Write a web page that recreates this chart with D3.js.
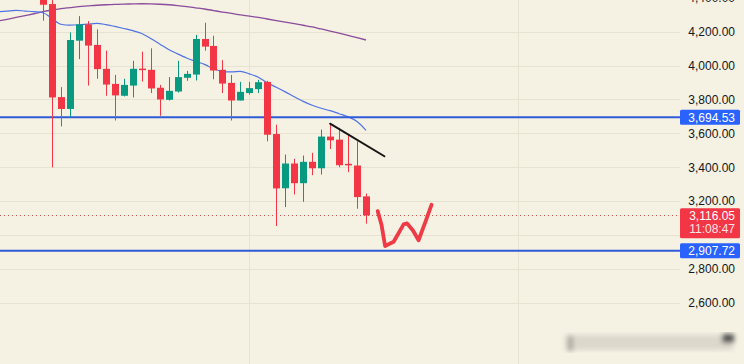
<!DOCTYPE html>
<html>
<head>
<meta charset="utf-8">
<script src="https://cdn.jsdelivr.net/npm/d3@7"></script>
<style>
  body { margin: 0; background: #f5f1e3; }
  svg { display: block; font-family: "Liberation Sans", Arial, sans-serif; }
</style>
</head>
<body>
<div id="chart"></div>
<script>
// candles, one per bar index 0..36
const open  = [4430, 4363, 3814, 3744, 4147, 4243, 4122, 3981, 3892, 3822, 3882, 3982, 3975, 3869, 3798, 3847, 3928, 3947, 4157, 4116, 3975, 3898, 3794, 3838, 3861, 3904, 3596, 3276, 3422, 3306, 3432, 3394, 3581, 3563, 3420, 3410, 3228];
const high  = [4470, 4400, 3873, 4196, 4292, 4263, 4214, 4088, 3945, 3922, 4028, 4082, 4102, 3886, 3932, 4028, 3969, 4181, 4253, 4176, 4032, 3945, 3904, 3904, 3916, 3910, 3651, 3475, 3449, 3469, 3485, 3622, 3657, 3632, 3594, 3553, 3245];
const low   = [4265, 3400, 3641, 3696, 4038, 3882, 3922, 3822, 3676, 3818, 3812, 3906, 3838, 3704, 3794, 3841, 3910, 3912, 4088, 3919, 3838, 3676, 3794, 3829, 3838, 3553, 3053, 3165, 3239, 3196, 3353, 3357, 3508, 3400, 3371, 3155, 3067];
const close = [4359, 3812, 3744, 4151, 4243, 4118, 3979, 3888, 3824, 3886, 3981, 3976, 3865, 3800, 3851, 3932, 3951, 4157, 4112, 3971, 3894, 3794, 3845, 3867, 3902, 3592, 3275, 3422, 3306, 3432, 3394, 3581, 3559, 3412, 3412, 3224, 3116.05];

// moving averages, index -5..36
const maStart = -5;
const maFast = [4317, 4322, 4326, 4322, 4318, 4312, 4278, 4244, 4239, 4241, 4245, 4249, 4242, 4231, 4219, 4206, 4189, 4160, 4128, 4095, 4069, 4045, 4025, 4007, 3981, 3966, 3963, 3966, 3951, 3931, 3898, 3872, 3845, 3816, 3789, 3766, 3748, 3734, 3716, 3698, 3670, 3618];
const maSlow = [4263, 4273, 4284, 4295, 4306, 4318, 4328, 4336, 4342, 4348, 4352, 4356, 4359, 4361, 4363, 4364, 4365, 4364, 4362, 4359, 4354, 4348, 4341, 4334, 4325, 4316, 4308, 4299, 4292, 4284, 4275, 4266, 4257, 4248, 4238, 4228, 4216, 4204, 4191, 4178, 4165, 4151];

// drawings
const levels = [3694.53, 2907.72];
const lastPrice = 3116.05;
const lastTime = "11:08:47";
const trendIdx = [32, 38.05];
const trendPx = [3657, 3465];
const wIdx = [37.31, 37.74, 38.13, 39.08, 40.19, 40.58, 41.25, 41.86, 42.59, 43.31];
const wPx  = [3141, 3057, 2935, 2960, 3063, 3069, 3025, 2969, 3073, 3179];

const gridTicks = [2600, 2800, 3000, 3200, 3400, 3600, 3800, 4000, 4200, 4400];
// 3,000.00 sits under the last-price tag, so it gets no label
const labelTicks = [2600, 2800, 3200, 3400, 3600, 3800, 4000, 4200, 4400];
const vGrid = [22.94, 52.93];

const W = 744, H = 364, plotRight = 680;
const up = "#089981", down = "#f23645", blue = "#2f5bd8";

const svg = d3.select("#chart").append("svg")
    .attr("width", W)
    .attr("height", H);

svg.append("rect").attr("width", W).attr("height", H).attr("fill", "#f5f1e3");

const x = d3.scaleLinear().domain([0, 36]).range([43, 366]);
const y = d3.scaleLinear().domain([2600, 4200]).range([302.8, 31.7]);

// grid
svg.append("g").selectAll("line")
  .data(gridTicks)
  .join("line")
    .attr("x1", 0).attr("x2", plotRight)
    .attr("y1", d => Math.round(y(d)) + 0.5).attr("y2", d => Math.round(y(d)) + 0.5)
    .attr("stroke", "#e8e2d0");
svg.append("g").selectAll("line")
  .data(vGrid)
  .join("line")
    .attr("x1", d => Math.round(x(d)) + 0.5).attr("x2", d => Math.round(x(d)) + 0.5)
    .attr("y1", 0).attr("y2", H)
    .attr("stroke", "#e8e2d0");

// moving averages
const ma = d3.line()
    .x((d, i) => x(i + maStart))
    .y(d => y(d))
    .curve(d3.curveMonotoneX);
svg.append("path").datum(maSlow)
    .attr("d", ma).attr("fill", "none")
    .attr("stroke", "#8a4c9c").attr("stroke-width", 1.3);
svg.append("path").datum(maFast)
    .attr("d", ma).attr("fill", "none")
    .attr("stroke", "#4f73e3").attr("stroke-width", 1.2);

// horizontal levels
svg.append("g").selectAll("line")
  .data(levels)
  .join("line")
    .attr("x1", 0).attr("x2", plotRight)
    .attr("y1", d => y(d)).attr("y2", d => y(d))
    .attr("stroke", blue).attr("stroke-width", 2);

// last price dotted line
svg.append("line")
    .attr("x1", 0).attr("x2", plotRight)
    .attr("y1", Math.round(y(lastPrice)) + 0.5).attr("y2", Math.round(y(lastPrice)) + 0.5)
    .attr("stroke", "#d9534f").attr("stroke-dasharray", "1,3");

// candles
const candles = svg.append("g").selectAll("g")
  .data(d3.range(open.length))
  .join("g")
    .attr("fill", i => close[i] >= open[i] ? up : down)
    .attr("stroke", i => close[i] >= open[i] ? up : down);

candles.append("line")
    .attr("x1", i => Math.round(x(i)) + 0.5).attr("x2", i => Math.round(x(i)) + 0.5)
    .attr("y1", i => y(high[i])).attr("y2", i => y(low[i]))
    .attr("stroke-width", 1);

candles.append("rect")
    .attr("stroke", "none")
    .attr("x", i => Math.round(x(i)) - 3)
    .attr("width", 7)
    .attr("y", i => y(Math.max(open[i], close[i])))
    .attr("height", i => Math.max(1.5, Math.abs(y(open[i]) - y(close[i]))));

// trend line
svg.append("line")
    .attr("x1", x(trendIdx[0])).attr("y1", y(trendPx[0]))
    .attr("x2", x(trendIdx[1])).attr("y2", y(trendPx[1]))
    .attr("stroke", "#151515").attr("stroke-width", 2)
    .attr("stroke-linecap", "round");

// hand drawn W
svg.append("path")
    .datum(d3.range(wIdx.length))
    .attr("d", d3.line().x(i => x(wIdx[i])).y(i => y(wPx[i])))
    .attr("fill", "none")
    .attr("stroke", "#ee3b45").attr("stroke-width", 3.8)
    .attr("stroke-linecap", "round").attr("stroke-linejoin", "round");

// price axis
const axis = svg.append("g")
    .attr("transform", "translate(735,0)")
    .call(d3.axisLeft(y).tickValues(labelTicks).tickFormat(d3.format(",.2f")).tickSize(0).tickPadding(0));
axis.select(".domain").remove();
axis.selectAll("text")
    .attr("fill", "#131722")
    .style("font-size", "12px")
    .style("font-family", "'Liberation Sans', Arial, sans-serif");

// level labels
const lab = svg.append("g");
levels.forEach(v => {
  lab.append("rect")
      .attr("x", 680).attr("y", y(v) - 7.5)
      .attr("width", 60).attr("height", 15)
      .attr("rx", 1.5)
      .attr("fill", "#2962ff");
  lab.append("text")
      .attr("x", 735).attr("y", y(v) + 4.3)
      .attr("text-anchor", "end")
      .attr("fill", "#fff")
      .style("font-size", "12px")
      .text(d3.format(",.2f")(v));
});

// last price label
const ly = y(lastPrice);
lab.append("rect")
    .attr("x", 680).attr("y", ly - 7)
    .attr("width", 60).attr("height", 30)
    .attr("rx", 1.5)
    .attr("fill", down);
lab.append("text")
    .attr("x", 735).attr("y", ly + 5)
    .attr("text-anchor", "end")
    .attr("fill", "#fff")
    .style("font-size", "12px")
    .text(d3.format(",.2f")(lastPrice));
lab.append("text")
    .attr("x", 735).attr("y", ly + 18)
    .attr("text-anchor", "end")
    .attr("fill", "#ffe3e5")
    .style("font-size", "12px")
    .text(lastTime);

// blurred watermark
const defs = svg.append("defs");
defs.append("filter").attr("id", "blur")
  .append("feGaussianBlur").attr("stdDeviation", 2.5);
const wm = svg.append("g").attr("filter", "url(#blur)");
wm.append("rect").attr("x", 565).attr("y", 335).attr("width", 168).attr("height", 15)
    .attr("fill", "#dcd8cc");
wm.append("rect").attr("x", 568).attr("y", 336).attr("width", 5).attr("height", 15)
    .attr("fill", "#aaa69c");
wm.append("rect").attr("x", 722).attr("y", 334).attr("width", 12).attr("height", 9)
    .attr("fill", "#555");
</script>
</body>
</html>
